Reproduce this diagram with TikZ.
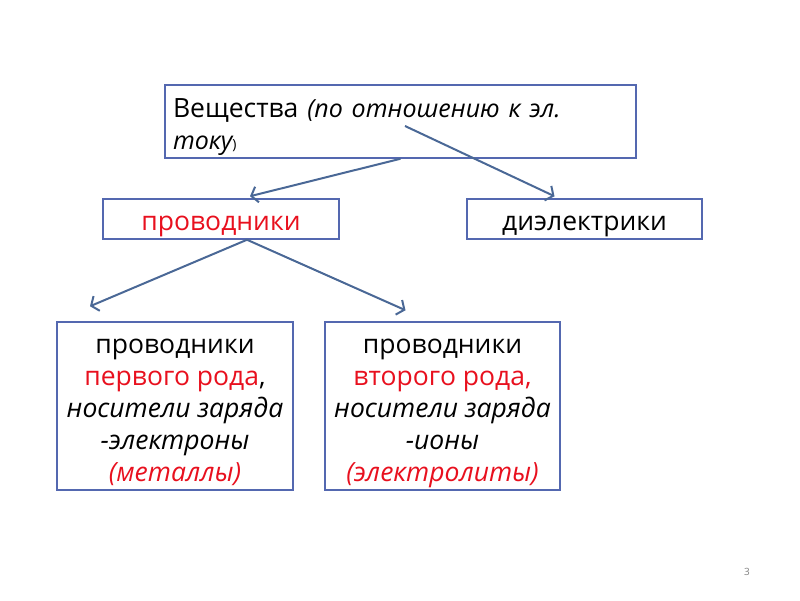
\documentclass[tikz,border=0pt]{standalone}
\usepackage{fontspec}
\setmainfont{Open Sans}
\usetikzlibrary{positioning, arrows.meta}
\definecolor{boxblue}{RGB}{84,104,176}
\definecolor{linkblue}{RGB}{74,104,150}
\definecolor{kindred}{RGB}{232,16,30}

\begin{document}
\begin{tikzpicture}[x=1pt, y=-1pt,
		box/.style={draw=boxblue, line width=1.5pt, inner sep=0pt, align=center, font=\fontsize{26.5}{31.8}\selectfont},
		link/.style={draw=linkblue, line width=2pt, -{Straight Barb[length=6pt,width=16pt]}}]
	\useasboundingbox (0,0) rectangle (800,600);
	
	\node[box, minimum width=471pt, minimum height=73pt, text width=455pt, align=left, text depth=26pt] (subst) at (400.5,121.5) {Вещества {\fontsize{25}{31.8}\selectfont\itshape (по отношению к эл.}\\{\fontsize{25}{31.8}\selectfont\itshape току}{\fontsize{14}{16}\selectfont )}};
	\node[box, minimum width=236pt, minimum height=40pt, text height=22pt, text depth=0pt, text=kindred] (cond) at (221,219) {проводники};
	\node[box, minimum width=235pt, minimum height=40pt, text height=22pt, text depth=0pt] (diel) at (584.5,219) {диэлектрики};
	\node[box, minimum width=236pt, minimum height=168pt, text height=150pt, text depth=0pt] (first) at (175,406) {проводники\\\textcolor{kindred}{первого рода},\\\textit{носители заряда}\\\textit{-электроны}\\\textcolor{kindred}{\textit{(металлы)}}};
	\node[box, minimum width=235pt, minimum height=168pt, text height=150pt, text depth=0pt] (second) at (442.5,406) {проводники\\\textcolor{kindred}{второго рода,}\\\textit{носители заряда}\\\textit{-ионы}\\\textcolor{kindred}{\textit{(электролиты)}}};
	\node[text=gray, font=\fontsize{10}{12}\selectfont] (pagenum) at (747,572) {3};
	
	\coordinate (fork) at (405,126);
	\draw[link] (subst.south) -- ([xshift=29pt,yshift=2pt]cond.north);
	\draw[link] (fork) -- ([xshift=-30pt,yshift=2pt]diel.north);
	\draw[link] ([xshift=26pt]cond.south) -- ([xshift=-85pt,yshift=15pt]first.north);
	\draw[link] ([xshift=26pt]cond.south) -- ([xshift=-37pt,yshift=11pt]second.north);
\end{tikzpicture}
\end{document}
